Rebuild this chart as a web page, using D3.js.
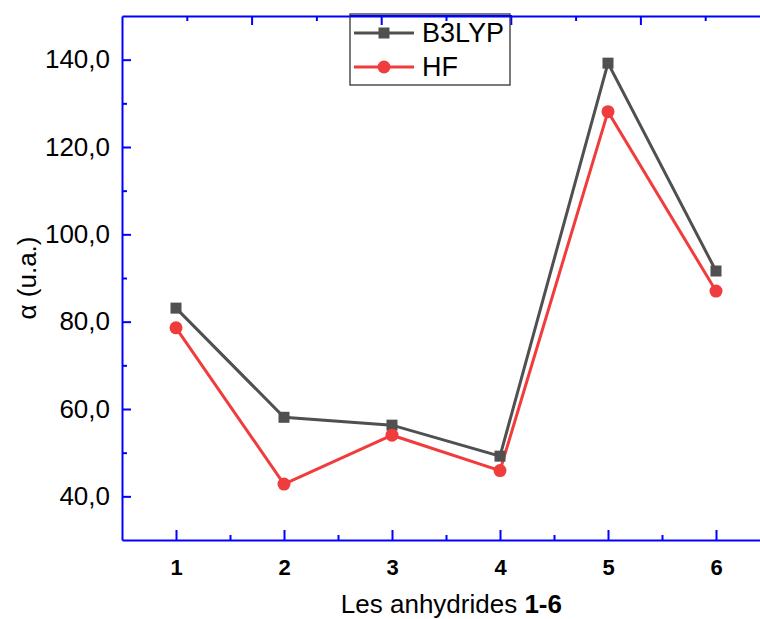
<!DOCTYPE html>
<meta charset="utf-8">
<script src="https://cdn.jsdelivr.net/npm/d3@7/dist/d3.min.js"></script>
<style>
body { margin: 0; background: #fff; }
svg { display: block; font-family: Arial, "Liberation Sans", sans-serif; }
.axis path, .axis line { stroke: #0000ff; stroke-width: 2; }
.axis text { fill: #000; }
</style>
<svg width="760" height="619"></svg>
<script>

// data
var compounds = [1, 2, 3, 4, 5, 6];
var b3lyp = [83.1, 58.1, 56.3, 49.2, 139.2, 91.6];
var hf = [78.6, 42.8, 54.0, 45.9, 128.1, 87.0];
var seriesNames = ["B3LYP", "HF"];
var yTicks = [40, 60, 80, 100, 120, 140];
var yMinor = [50, 70, 90, 110, 130];

var svg = d3.select("svg"),
    margin = {left: 122, top: 16, right: -10, bottom: 79},
    width = +svg.attr("width") - margin.left - margin.right,
    height = +svg.attr("height") - margin.top - margin.bottom;

var g = svg.append("g").attr("transform", "translate(" + margin.left + "," + margin.top + ")");

var x = d3.scaleLinear().domain([0.5, 6.5]).range([0, width]);
var y = d3.scaleLinear().domain([30, 150]).range([height, 0]);
// top axis in OriginLab style, 0..1 scale with no labels
var xTop = d3.scaleLinear().domain([0, 1]).range([0, width]);

var fmt = function(d) { return d3.format(".1f")(d).replace(".", ","); };

// minor ticks first
g.append("g").attr("class", "axis")
    .attr("transform", "translate(0," + height + ")")
    .call(d3.axisBottom(x).tickValues([1.5, 2.5, 3.5, 4.5, 5.5]).tickSize(-5).tickFormat(""))
    .select(".domain").remove();
g.append("g").attr("class", "axis")
    .call(d3.axisLeft(y).tickValues(yMinor).tickSize(-5).tickFormat(""))
    .select(".domain").remove();
g.append("g").attr("class", "axis")
    .call(d3.axisTop(xTop).tickValues([0.1, 0.3, 0.5, 0.7, 0.9]).tickSize(-5).tickFormat(""))
    .select(".domain").remove();

var xAxis = g.append("g").attr("class", "axis")
    .attr("transform", "translate(0," + height + ")")
    .call(d3.axisBottom(x).tickValues(compounds).tickFormat(d3.format("d"))
        .tickSizeInner(-10).tickSizeOuter(0).tickPadding(19));
xAxis.selectAll("text").style("font-size", "22px").style("font-weight", "bold");

var yAxis = g.append("g").attr("class", "axis")
    .call(d3.axisLeft(y).tickValues(yTicks).tickSizeInner(-9).tickSizeOuter(0).tickPadding(12).tickFormat(fmt));
yAxis.selectAll("text").style("font-size", "26px");

g.append("g").attr("class", "axis")
    .call(d3.axisTop(xTop).tickValues([0.2, 0.4, 0.6, 0.8]).tickSizeInner(-9).tickSizeOuter(0).tickFormat(""));

g.append("g").attr("class", "axis")
    .attr("transform", "translate(" + width + ",0)")
    .call(d3.axisRight(y).tickValues(yTicks).tickSizeInner(-9).tickSizeOuter(0).tickFormat(""));

// axis titles
svg.append("text")
    .attr("x", margin.left + x(3.55))
    .attr("y", 613)
    .attr("text-anchor", "middle")
    .style("font-size", "26px")
    .text("Les anhydrides ")
    .append("tspan").style("font-weight", "bold").text("1-6");

svg.append("text")
    .attr("transform", "translate(36," + (margin.top + height / 2) + ") rotate(-90)")
    .attr("text-anchor", "middle")
    .style("font-size", "26px")
    .text("α (u.a.)");

var colors = ["#505050", "#f03c3c"];
var data = [b3lyp, hf];

var line = d3.line()
    .x(function(d, i) { return x(compounds[i]); })
    .y(function(d) { return y(d); });

data.forEach(function(vals, k) {
    g.append("path")
        .datum(vals)
        .attr("fill", "none")
        .attr("stroke", colors[k])
        .attr("stroke-width", 3)
        .attr("d", line);
});

// markers
g.selectAll("rect.b3")
    .data(b3lyp)
    .enter().append("rect")
    .attr("x", function(d, i) { return x(compounds[i]) - 5.5; })
    .attr("y", function(d) { return y(d) - 5.5; })
    .attr("width", 11).attr("height", 11)
    .attr("fill", colors[0]);

g.selectAll("circle.hf")
    .data(hf)
    .enter().append("circle")
    .attr("cx", function(d, i) { return x(compounds[i]); })
    .attr("cy", function(d) { return y(d); })
    .attr("r", 6.5)
    .attr("fill", colors[1]);

// legend
var leg = svg.append("g").attr("transform", "translate(350,14)");
leg.append("rect")
    .attr("width", 160).attr("height", 71)
    .attr("fill", "none")
    .attr("stroke", "#333").attr("stroke-width", 1.3);
// redraw top axis line above the legend box
svg.append("line")
    .attr("x1", 350).attr("x2", 512).attr("y1", margin.top).attr("y2", margin.top)
    .attr("stroke", "#0000ff").attr("stroke-width", 2);

seriesNames.forEach(function(name, k) {
    var cy = 19 + k * 34;
    leg.append("line")
        .attr("x1", 4).attr("x2", 64).attr("y1", cy).attr("y2", cy)
        .attr("stroke", colors[k]).attr("stroke-width", 3);
    if (k == 0) {
        leg.append("rect").attr("x", 28.5).attr("y", cy - 5.5)
            .attr("width", 11).attr("height", 11).attr("fill", colors[k]);
    } else {
        leg.append("circle").attr("cx", 34).attr("cy", cy).attr("r", 6.5).attr("fill", colors[k]);
    }
    leg.append("text")
        .attr("x", 72).attr("y", cy + 9)
        .style("font-size", "27px")
        .text(name);
});

</script>
